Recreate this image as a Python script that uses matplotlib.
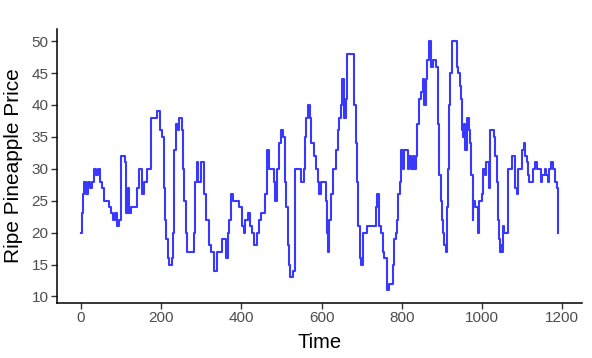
import numpy as np
import matplotlib.pyplot as plt

plt.rcParams['font.family'] = ['Liberation Sans', 'DejaVu Sans']

# change points of the price series (value holds until the next time)
times = [0, 3, 6, 9, 13, 17, 22, 27, 32, 38, 43, 48, 53, 57, 63, 69, 75, 80, 85, 90,
         95, 99, 110, 113, 118, 121, 126, 140, 146, 152, 158, 164, 175, 185, 191, 197,
         203, 206, 210, 213, 216, 220, 226, 229, 232, 236, 241, 245, 251, 255, 258, 261,
         265, 281, 284, 289, 293, 299, 307, 313, 319, 325, 333, 339, 346, 351, 360, 363,
         366, 370, 374, 380, 393, 398, 402, 406, 410, 416, 421, 427, 432, 438, 444, 450,
         459, 465, 469, 477, 481, 485, 490, 494, 498, 503, 508, 512, 516, 519, 522, 528,
         533, 548, 555, 558, 562, 566, 570, 574, 581, 586, 590, 594, 598, 610, 614, 617,
         619, 623, 629, 635, 640, 644, 648, 652, 656, 660, 663, 678, 681, 685, 689, 692,
         695, 698, 703, 714, 735, 739, 743, 748, 752, 756, 760, 764, 768, 777, 779, 781,
         785, 789, 791, 795, 798, 802, 806, 810, 815, 818, 823, 827, 831, 835, 839, 843,
         847, 852, 856, 860, 864, 868, 873, 877, 885, 890, 893, 898, 900, 902, 906, 910,
         912, 914, 917, 920, 925, 935, 937, 941, 945, 948, 950, 953, 956, 958, 962, 967,
         970, 972, 977, 978, 983, 989, 993, 1000, 1003, 1008, 1011, 1017, 1020, 1031,
         1033, 1037, 1039, 1042, 1045, 1047, 1050, 1053, 1056, 1064, 1074, 1078, 1081,
         1083, 1087, 1089, 1100, 1104, 1108, 1112, 1114, 1118, 1128, 1133, 1136, 1142,
         1147, 1150, 1156, 1160, 1164, 1168, 1173, 1178, 1183, 1187, 1189, 1190]

prices = [20, 23, 26, 28, 26, 28, 27, 28, 30, 29, 30, 28, 27, 25, 25, 24, 23, 22, 23, 21,
          22, 32, 31, 23, 27, 23, 24, 27, 30, 26, 28, 30, 38, 38, 39, 36,
          35, 27, 22, 19, 16, 15, 16, 20, 33, 37, 36, 38, 36, 30, 25, 20,
          17, 20, 28, 31, 28, 31, 26, 22, 18, 17, 14, 17, 17, 19, 19, 16,
          20, 22, 26, 25, 24, 24, 21, 20, 22, 23, 21, 20, 18, 20, 22, 23,
          26, 33, 30, 30, 28, 25, 30, 34, 36, 35, 28, 24, 18, 15, 13, 14,
          30, 28, 30, 35, 38, 40, 38, 34, 32, 30, 28, 26, 28, 25, 20, 17,
          22, 26, 30, 33, 36, 38, 40, 44, 38, 41, 48, 48, 40, 34, 28, 21,
          16, 15, 20, 21, 24, 26, 21, 20, 17, 16, 16, 11, 12, 13, 15, 19,
          20, 22, 26, 28, 33, 30, 33, 33, 30, 32, 30, 32, 30, 32, 37, 41,
          42, 44, 40, 44, 47, 50, 46, 47, 46, 37, 29, 25, 22, 20, 18, 17,
          24, 30, 40, 45, 50, 50, 46, 45, 43, 41, 36, 35, 37, 33, 38, 36,
          34, 29, 22, 25, 24, 20, 25, 26, 30, 29, 31, 27, 36, 35,
          32, 28, 22, 19, 17, 18, 17, 21, 20, 30, 32, 32, 29,
          27, 26, 30, 33, 34, 32, 31, 29, 28, 30, 31, 30, 30,
          28, 29, 30, 29, 28, 30, 31, 30, 28, 27, 26, 20]

fig = plt.figure(figsize=(5.92, 3.58), dpi=100)
ax = fig.add_axes([0.0963, 0.155, 0.887, 0.765])

ax.plot(times, prices, drawstyle='steps-post', color='#3838ff', linewidth=1.5)

ax.set_xlim(-59.5, 1249.5)
ax.set_ylim(9.05, 51.95)
ax.set_xticks([0, 200, 400, 600, 800, 1000, 1200])
ax.set_yticks([10, 15, 20, 25, 30, 35, 40, 45, 50])

ax.set_xlabel('Time', fontsize=14.5, labelpad=6)
ax.set_ylabel('Ripe Pineapple Price', fontsize=15, labelpad=6)

for side in ['top', 'right']:
    ax.spines[side].set_visible(False)
for side in ['left', 'bottom']:
    ax.spines[side].set_linewidth(1.1)
ax.tick_params(axis='both', colors='#333333', labelcolor='#4d4d4d',
               labelsize=11, length=4, width=1.0, pad=2)

fig.savefig('out.png', dpi=100)
